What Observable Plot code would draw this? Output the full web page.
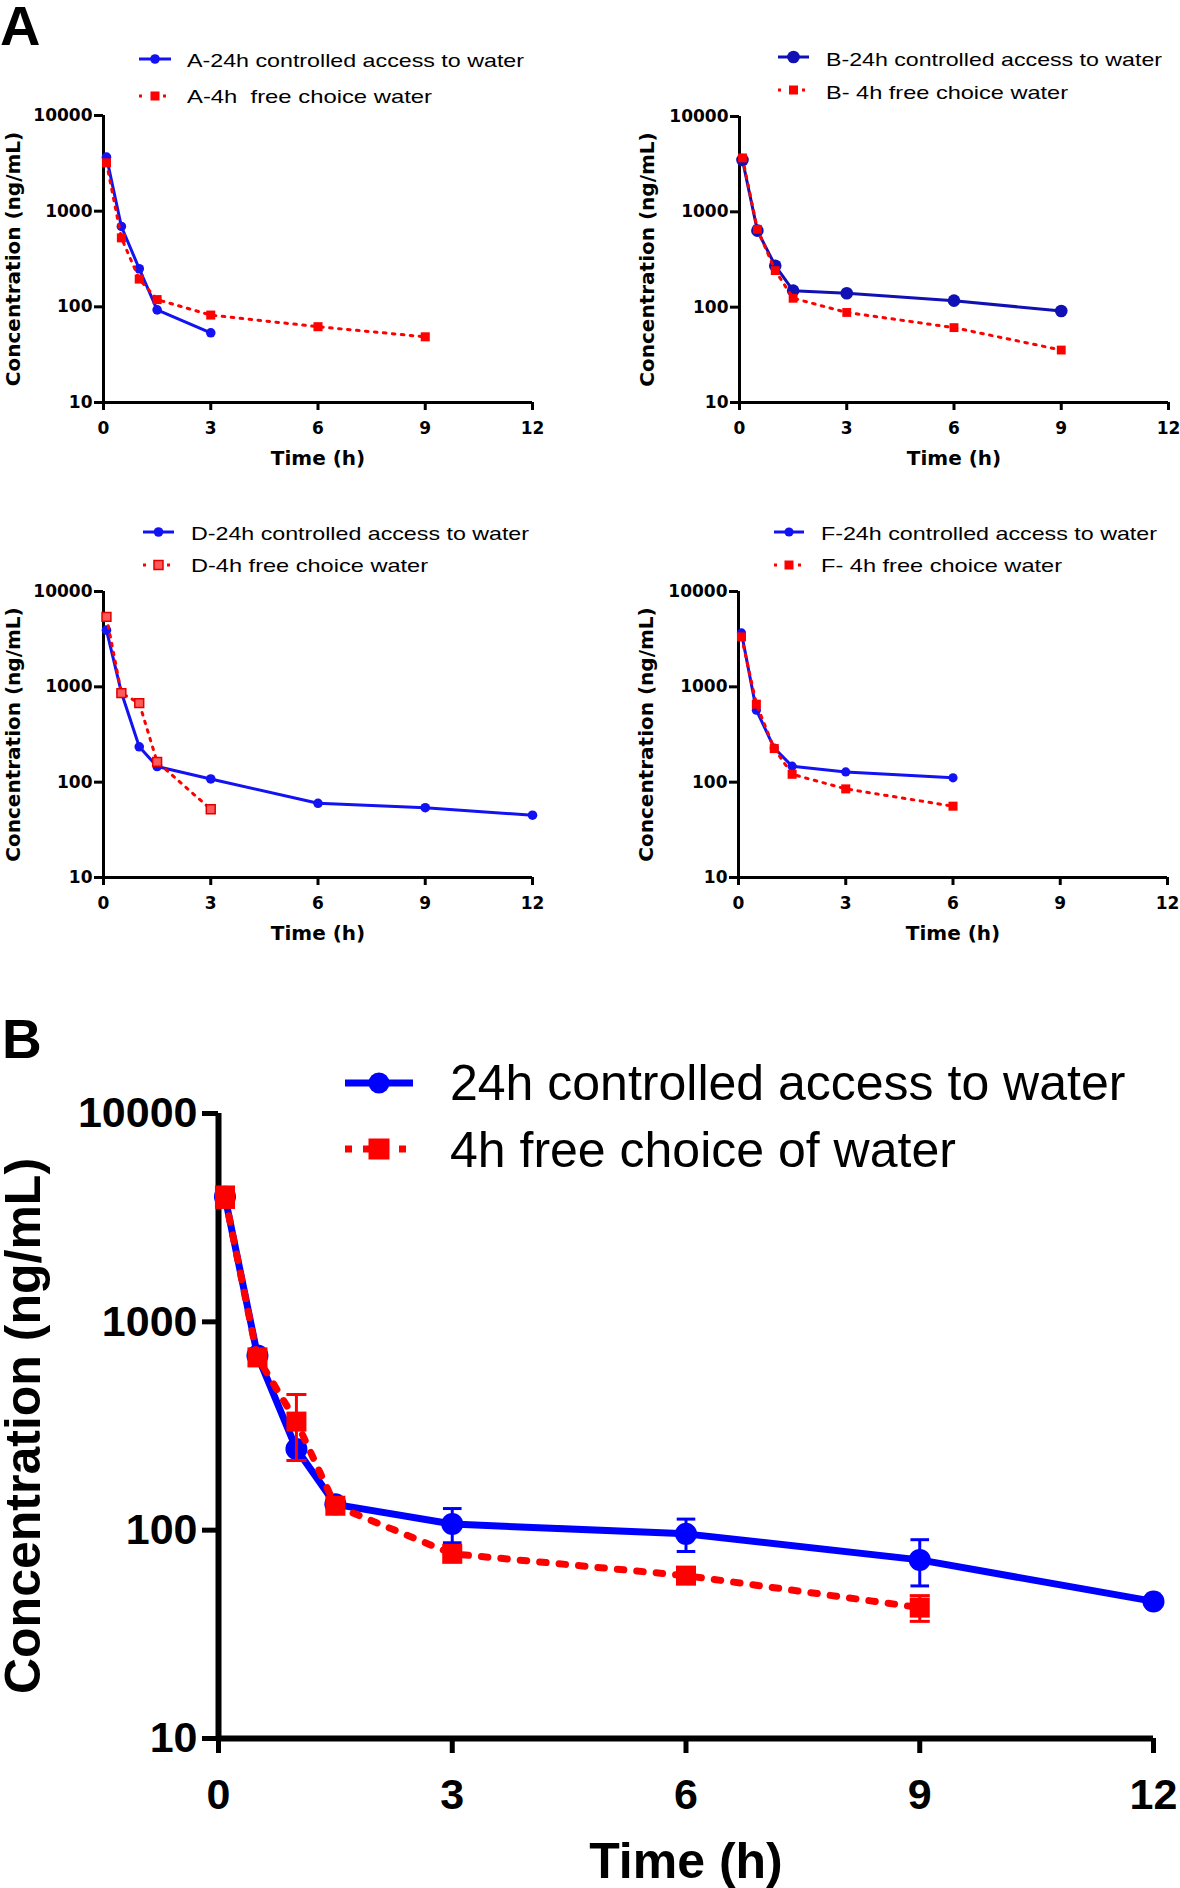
<!DOCTYPE html>
<html>
<head>
<meta charset="utf-8">
<script src="https://cdn.jsdelivr.net/npm/d3@7"></script>
<script src="https://cdn.jsdelivr.net/npm/@observablehq/plot@0.6"></script>
<style>
  body { margin: 0; background: #fff; }
  #root { position: relative; width: 1180px; height: 1888px; overflow: hidden; background: #fff; }
  #root svg text { white-space: pre; }
</style>
</head>
<body>
<div id="root"></div>
<script>
// ---------- data ----------
const times = [0.083, 0.5, 1, 1.5, 3, 6, 9, 12];
const xTicks = [0, 3, 6, 9, 12];
const yTicks = [10, 100, 1000, 10000];
const xLabel = "Time (h)";
const yLabel = "Concentration (ng/mL)";

const aControl = [3670, 692, 250, 93, 53.5];
const aFree    = [3200, 526, 195, 119, 82, 62, 48.6];
const bControl = [3500, 635, 272, 149, 140, 117, 91];
const bFree    = [3680, 656, 242, 124, 88, 61, 35.5];
const dControl = [3930, 873, 235, 146, 108, 60, 54, 45];
const dFree    = [5420, 860, 674, 163, 52];
const fControl = [3680, 569, 228, 147, 128, 111];
const fFree    = [3340, 658, 225, 121, 85, 56];

const meanControl   = [3990, 690, 245, 133, 107, 96, 72, 45.5];
const meanControlSD = [null, null, null, null, 20, 17, 18, null];
const meanFree      = [3990, 675, 332, 131, 77, 60.5, 42.5];
const meanFreeSD    = [450, null, 116, null, null, null, 6];

const legendA = ["A-24h controlled access to water", "A-4h  free choice water"];
const legendB = ["B-24h controlled access to water", "B- 4h free choice water"];
const legendD = ["D-24h controlled access to water", "D-4h free choice water"];
const legendF = ["F-24h controlled access to water", "F- 4h free choice water"];
const legendMean = ["24h controlled access to water", "4h free choice of water"];
const panelLetters = ["A", "B"];

// ---------- helpers ----------
const root = document.getElementById("root");
const series = vals => vals.map((v, i) => ({t: times[i], v}));
const fmt = d => `${d}`;
function place(node, left, top) {
  const d = document.createElement("div");
  d.style.cssText = `position:absolute;left:${left}px;top:${top}px;`;
  d.appendChild(node);
  root.appendChild(d);
}

function smallPanel(o) {
  const c = series(o.ctrl), f = series(o.free);
  return Plot.plot({
    width: o.width, height: 380,
    marginLeft: o.ml, marginRight: o.mr, marginTop: o.mt, marginBottom: 78,
    x: {domain: [0, 12]},
    y: {type: "log", domain: [10, 10000]},
    style: {fontFamily: "'DejaVu Sans', sans-serif", fontWeight: "bold", fontSize: "17px", color: "#000", background: "transparent", overflow: "visible"},
    marks: [
      Plot.axisX({ticks: xTicks, tickSize: 8, tickPadding: 11, tickFormat: fmt, label: null, strokeWidth: 3}),
      Plot.axisY({ticks: yTicks, tickSize: 9, tickPadding: 2, tickFormat: fmt, label: null, strokeWidth: 3}),
      Plot.ruleX([0], {strokeWidth: 3}),
      Plot.ruleY([10], {strokeWidth: 3}),
      Plot.line(c, {x: "t", y: "v", stroke: o.blue, strokeWidth: 3}),
      Plot.dot(c, {x: "t", y: "v", r: o.cr, fill: o.blue}),
      Plot.line(f, {x: "t", y: "v", stroke: "#ff0000", strokeWidth: 3, strokeDasharray: "2.6,6.4"}),
      Plot.dot(f, {x: "t", y: "v", symbol: "square", r: o.sr, fill: o.redFill, stroke: o.redStroke || "none", strokeWidth: 1.5}),
      Plot.text([xLabel], {frameAnchor: "bottom", dy: 62, lineAnchor: "bottom", textAnchor: "middle", fontSize: 20, fontWeight: "bold"}),
      Plot.text([yLabel], {frameAnchor: "left", dx: o.ydx, rotate: -90, lineAnchor: "top", textAnchor: "middle", fontSize: 20, fontWeight: "bold"})
    ]
  });
}

function bigPanel() {
  const blue = "#0000ff", red = "#ff0000";
  const c = series(meanControl), f = series(meanFree);
  const err = (s, sd) => s.map((d, i) => ({t: d.t, v: d.v, sd: sd[i]}))
    .filter(d => d.sd != null).map(d => ({t: d.t, lo: d.v - d.sd, hi: d.v + d.sd}));
  const ce = err(c, meanControlSD), fe = err(f, meanFreeSD);
  const cap = {draw(ctx, size) { const w = Math.sqrt(size); ctx.moveTo(-w / 2, 0); ctx.lineTo(w / 2, 0); }};
  return Plot.plot({
    width: 1180, height: 808,
    marginLeft: 218, marginRight: 27, marginTop: 33, marginBottom: 150,
    x: {domain: [0, 12]},
    y: {type: "log", domain: [10, 10000]},
    style: {fontFamily: "'Liberation Sans', Arial, sans-serif", fontWeight: "bold", fontSize: "43px", color: "#000", background: "transparent", overflow: "visible"},
    marks: [
      Plot.axisX({ticks: xTicks, tickSize: 15, tickPadding: 25, tickFormat: fmt, label: null, strokeWidth: 5}),
      Plot.axisY({ticks: yTicks, tickSize: 16, tickPadding: 5, tickFormat: fmt, label: null, strokeWidth: 5}),
      Plot.ruleX([0], {strokeWidth: 6}),
      Plot.ruleY([10], {strokeWidth: 6}),
      Plot.line(c, {x: "t", y: "v", stroke: blue, strokeWidth: 7}),
      Plot.dot(c, {x: "t", y: "v", r: 11, fill: blue}),
      Plot.ruleX(ce, {x: "t", y1: "lo", y2: "hi", stroke: blue, strokeWidth: 3}),
      Plot.dot(ce, {x: "t", y: "hi", symbol: cap, r: 10.5, stroke: blue, strokeWidth: 3}),
      Plot.dot(ce, {x: "t", y: "lo", symbol: cap, r: 10.5, stroke: blue, strokeWidth: 3}),
      Plot.line(f, {x: "t", y: "v", stroke: red, strokeWidth: 7, strokeDasharray: "6.5,13"}),
      Plot.dot(f, {x: "t", y: "v", symbol: "square", r: 11.3, fill: red}),
      Plot.ruleX(fe, {x: "t", y1: "lo", y2: "hi", stroke: red, strokeWidth: 3}),
      Plot.dot(fe, {x: "t", y: "hi", symbol: cap, r: 11.3, stroke: red, strokeWidth: 3}),
      Plot.dot(fe, {x: "t", y: "lo", symbol: cap, r: 11.3, stroke: red, strokeWidth: 3}),
      Plot.text([xLabel], {frameAnchor: "bottom", dy: 139, lineAnchor: "bottom", textAnchor: "middle", fontSize: 50, fontWeight: "bold"}),
      Plot.text([yLabel], {frameAnchor: "left", dx: -214, rotate: -90, lineAnchor: "top", textAnchor: "middle", fontSize: 50, fontWeight: "bold"})
    ]
  });
}

// ---------- panels ----------
place(smallPanel({ctrl: aControl, free: aFree, width: 560, ml: 103, mr: 28, mt: 15, blue: "#1212f2", cr: 4.8, sr: 5.1, redFill: "#ff0000", ydx: -98}), 0, 100);
place(smallPanel({ctrl: bControl, free: bFree, width: 580, ml: 139, mr: 12, mt: 16, blue: "#1010b4", cr: 6.3, sr: 5.0, redFill: "#ff0000", ydx: -100}), 600, 100);
place(smallPanel({ctrl: dControl, free: dFree, width: 560, ml: 103, mr: 28, mt: 16, blue: "#1212f2", cr: 4.8, sr: 5.0, redFill: "#ff5a5a", redStroke: "#e00000", ydx: -98}), 0, 575);
place(smallPanel({ctrl: fControl, free: fFree, width: 580, ml: 138, mr: 13, mt: 16, blue: "#1212f2", cr: 4.6, sr: 5.1, redFill: "#ff0000", ydx: -100}), 600, 575);
place(bigPanel(), 0, 1080);

// ---------- legends & panel letters (overlay) ----------
const ov = d3.create("svg")
  .attr("width", 1180).attr("height", 1888)
  .style("position", "absolute").style("left", "0px").style("top", "0px")
  .style("pointer-events", "none");

function legend(o) {
  const g = ov.append("g");
  const mid = (o.x1 + o.x2) / 2;
  g.append("line").attr("x1", o.x1).attr("x2", o.x2).attr("y1", o.cy[0]).attr("y2", o.cy[0])
    .attr("stroke", o.blue).attr("stroke-width", o.lw);
  g.append("circle").attr("cx", mid).attr("cy", o.cy[0]).attr("r", o.cr).attr("fill", o.blue);
  g.append("line").attr("x1", o.x1).attr("x2", o.x2).attr("y1", o.cy[1]).attr("y2", o.cy[1])
    .attr("stroke", "#ff0000").attr("stroke-width", o.lw).attr("stroke-dasharray", o.dash);
  g.append("rect").attr("x", mid - o.s / 2).attr("y", o.cy[1] - o.s / 2).attr("width", o.s).attr("height", o.s)
    .attr("fill", o.redFill).attr("stroke", o.redStroke || "none").attr("stroke-width", 1.5);
  o.labels.forEach((t, i) => {
    const tx = g.append("text").attr("x", o.tx).attr("y", o.base[i])
      .attr("font-family", "'Liberation Sans', Arial, sans-serif").attr("font-size", o.fs)
      .attr("fill", "#000").text(t);
    if (o.widths) tx.attr("textLength", o.widths[i]).attr("lengthAdjust", "spacingAndGlyphs");
  });
}

legend({labels: legendA, x1: 139, x2: 171, cy: [59, 96], base: [67, 103], tx: 187, widths: [337, 245], fs: 18.5, blue: "#1212f2", lw: 3, cr: 4.8, s: 9, redFill: "#ff0000", dash: "3,9"});
legend({labels: legendB, x1: 778, x2: 809, cy: [57, 90], base: [66, 99], tx: 826, widths: [336, 242], fs: 18.5, blue: "#1010b4", lw: 3, cr: 6.3, s: 9, redFill: "#ff0000", dash: "3,9"});
legend({labels: legendD, x1: 143, x2: 174, cy: [532, 565], base: [540, 572], tx: 191, widths: [338, 237], fs: 18.5, blue: "#1212f2", lw: 3, cr: 4.8, s: 9, redFill: "#ff5a5a", redStroke: "#e00000", dash: "3,9"});
legend({labels: legendF, x1: 774, x2: 804, cy: [532, 565], base: [540, 572], tx: 821, widths: [336, 241], fs: 18.5, blue: "#1212f2", lw: 3, cr: 4.6, s: 9, redFill: "#ff0000", dash: "3,9"});
legend({labels: legendMean, x1: 345, x2: 413, cy: [1083, 1149], base: [1100, 1167], tx: 450, fs: 50, blue: "#0000ff", lw: 7, cr: 10.5, s: 21, redFill: "#ff0000", dash: "7,11"});

ov.append("text").attr("x", 0).attr("y", 45).attr("font-family", "'Liberation Sans', Arial, sans-serif")
  .attr("font-weight", "bold").attr("font-size", 56).text(panelLetters[0]);
ov.append("text").attr("x", 2).attr("y", 1058).attr("font-family", "'Liberation Sans', Arial, sans-serif")
  .attr("font-weight", "bold").attr("font-size", 55).text(panelLetters[1]);

root.appendChild(ov.node());
</script>
</body>
</html>
